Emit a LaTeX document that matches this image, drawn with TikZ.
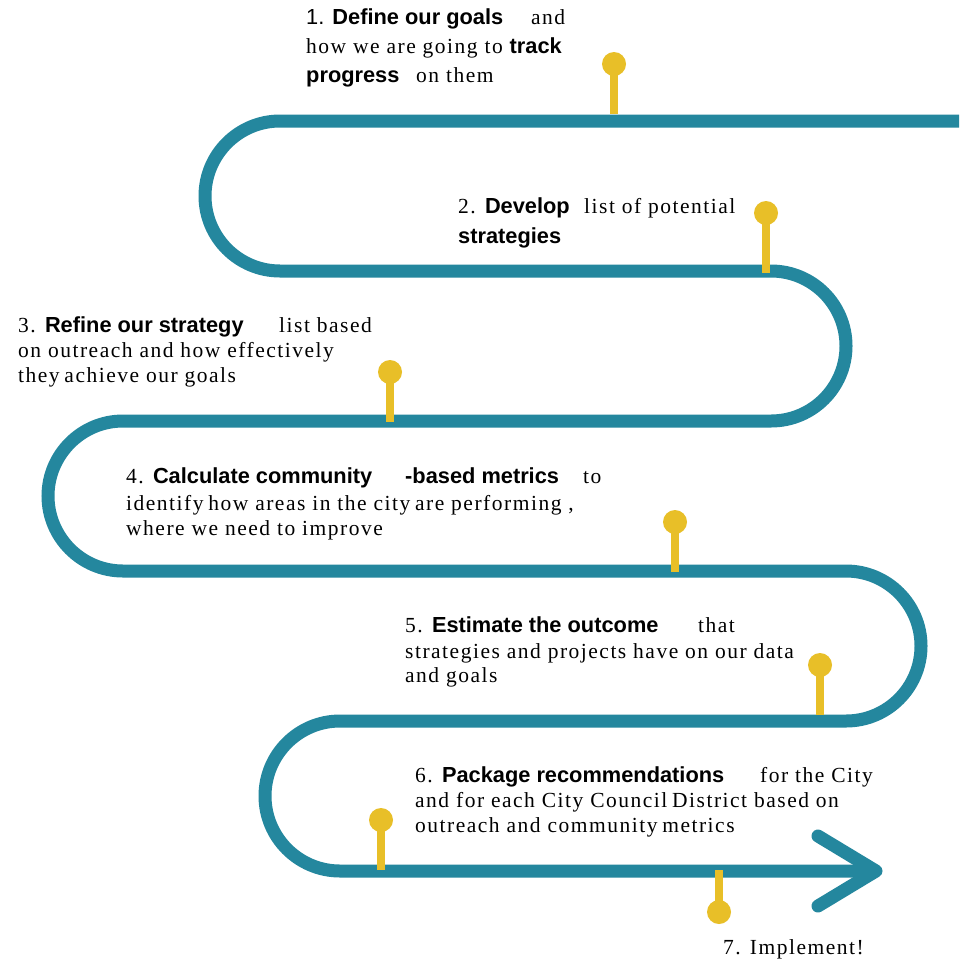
\documentclass[tikz,border=0pt]{standalone}
\usepackage{fontspec}
\newfontfamily\sr{Liberation Serif}[LetterSpace=7]
\newfontfamily\sn{Liberation Sans}
\definecolor{teal1}{RGB}{36,135,158}
\definecolor{gold1}{RGB}{232,191,40}
\tikzset{
  road/.style={draw=teal1, line width=13pt, line cap=butt},
  chev/.style={draw=teal1, line width=13pt, line cap=round, line join=round},
  stick/.style={draw=gold1, line width=8pt},
  knob/.style={fill=gold1},
  txt/.style={anchor=base west, inner sep=0pt, font=\sr\fontsize{21.5}{26}\selectfont},
}
\newcommand{\bs}[1]{{\sn\bfseries\fontsize{21.8}{26}\selectfont #1}}
\newcommand{\ns}{\hspace{0.22em}}
\begin{document}
\begin{tikzpicture}[x=1pt,y=-1pt]
\useasboundingbox (0,0) rectangle (966,959);
\fill[white] (0,0) rectangle (966,959);
% road
\draw[road] (959,121) -- (280,121)
  arc[start angle=270, end angle=90, radius=75] -- (771,271)
  arc[start angle=-90, end angle=90, radius=75] -- (123,421)
  arc[start angle=270, end angle=90, radius=75] -- (846,571)
  arc[start angle=-90, end angle=90, radius=75] -- (340,721)
  arc[start angle=270, end angle=90, radius=75] -- (872,871);
\coordinate (ca) at (818,836);
\coordinate (cb) at (876,871);
\coordinate (cc) at (818,906);
\draw[chev] (ca) -- (cb) -- (cc);
% pins
\foreach \px/\py/\pe in {614/64/114, 766/213/273, 390/372/422, 675/522/572, 820/665/715, 381/820/870, 719/912/870}{
  \draw[stick] (\px,\py) -- (\px,\pe);
  \fill[knob] (\px,\py) circle (12);
}
% texts
\node[txt] (t1a) at (306,24) {{\sn\fontsize{21.8}{26}\selectfont 1. }\bs{Define our goals}};
\node[txt] (t1b) at (531,24) {and};
\node[txt] (t1c) at (306,53) {how we are going to \bs{track}};
\node[txt] (t1d) at (306,82) {\bs{progress}};
\node[txt] (t1e) at (416,82) {on them};

\node[txt] (t2a) at (458,213) {2. \bs{Develop}};
\node[txt] (t2b) at (584,213) {list of potential};
\node[txt] (t2c) at (458,243) {\bs{strategies}};

\node[txt] (t3a) at (18,332) {3. \bs{Refine our strategy}};
\node[txt] (t3b) at (279,332) {list based};
\node[txt] (t3c) at (18,357) {on outreach and how effectively};
\node[txt] (t3d) at (18,382) {they\ns achieve our goals};

\node[txt] (t4a) at (126,483) {4. \bs{Calculate community}};
\node[txt] (t4b) at (405,483) {\bs{-based metrics}};
\node[txt] (t4c) at (583,483) {to};
\node[txt] (t4d) at (126,510) {identify\ns how areas in the city\ns are performing ,};
\node[txt] (t4e) at (126,535) {where we need to improve};

\node[txt] (t5a) at (405,632) {5. \bs{Estimate the outcome}};
\node[txt] (t5b) at (698,632) {that};
\node[txt] (t5c) at (405,658) {strategies and projects have on our data};
\node[txt] (t5d) at (405,682) {and goals};

\node[txt] (t6a) at (415,782) {6. \bs{Package recommendations}};
\node[txt] (t6b) at (760,782) {for the City};
\node[txt] (t6c) at (415,807) {and for each City Council\ns District based on};
\node[txt] (t6d) at (415,832) {outreach and community\ns metrics};

\node[txt] (t7) at (723,954) {7. Implement!};
\end{tikzpicture}
\end{document}
